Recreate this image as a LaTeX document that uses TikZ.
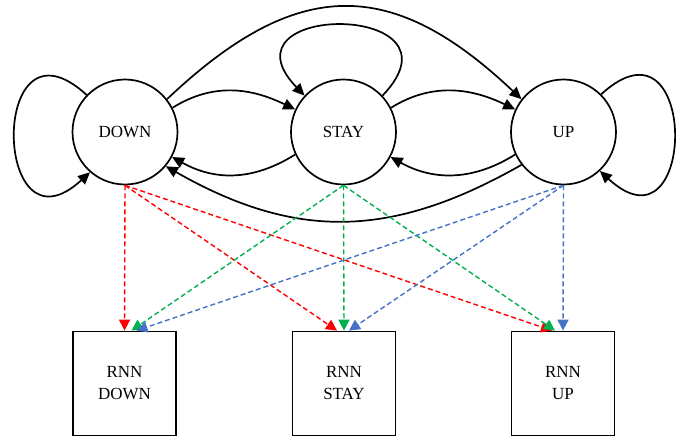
\documentclass[tikz,border=0pt]{standalone}
\usepackage{fontspec}
\setmainfont{Liberation Serif}
\usetikzlibrary{arrows.meta}
\definecolor{emitred}{RGB}{255,0,0}
\definecolor{emitgreen}{RGB}{0,176,80}
\definecolor{emitblue}{RGB}{68,114,196}
\begin{document}
\begin{tikzpicture}
        [x=1pt,y=-1pt,
        font=\fontsize{17}{22}\selectfont,
        state/.style={circle,draw,line width=1.7pt,minimum size=105pt,inner sep=0pt},
        rnn/.style={rectangle,draw,line width=1.8pt,minimum width=103pt,minimum height=104pt,align=center},
        arr/.style={-{Triangle[length=12pt,width=11pt]},line width=1.7pt},
        emit/.style={-{Triangle[length=11pt,width=11pt]},line width=1.4pt,dash pattern=on 5pt off 3pt}]
        \useasboundingbox (0,0) rectangle (685,439);
        \node (down) at (125,132) [state] {DOWN};
        \node (stay) at (343.5,132) [state] {STAY};
        \node (up) at (563.5,132) [state] {UP};
        \node (rnndown) at (124.5,383.5) [rnn] {RNN\\DOWN};
        \node (rnnstay) at (344,383.5) [rnn] {RNN\\STAY};
        \node (rnnup) at (563,383.5) [rnn] {RNN\\UP};
        % self loops
        \draw [arr] (down.136) .. controls +(-98,-90) and +(-98,90) .. (down.229);
        \draw [arr] (stay.43) .. controls +(90,-94) and +(-90,-94) .. (stay.137);
        \draw [arr] (up.45) .. controls +(98,-90) and +(98,90) .. (up.-47);
        % transitions
        \draw [arr] (down.27) .. controls +(40,-25) and +(-45,-22) .. (stay.155);
        \draw [arr] (stay.27) .. controls +(40,-25) and +(-45,-22) .. (up.155);
        \draw [arr] (down.38) .. controls +(130,-123) and +(-130,-123) .. (up.142);
        \draw [arr] (stay.205) .. controls +(-40,25) and +(45,25) .. (down.-28);
        \draw [arr] (up.205) .. controls +(-40,25) and +(45,25) .. (stay.-28);
        \draw [arr] (up.218) .. controls +(-130,74) and +(130,74) .. (down.-40);
        % emissions
        \draw [emit,emitred] (down.south) -- (rnndown.north);
        \draw [emit,emitred] (down.south) -- ([xshift=-7pt]rnnstay.north);
        \draw [emit,emitred] (down.south) -- ([xshift=-11pt]rnnup.north);
        \draw [emit,emitgreen] (stay.south) -- ([xshift=7pt]rnndown.north);
        \draw [emit,emitgreen] (stay.south) -- (rnnstay.north);
        \draw [emit,emitgreen] (stay.south) -- ([xshift=-8pt]rnnup.north);
        \draw [emit,emitblue] (up.south) -- ([xshift=12pt]rnndown.north);
        \draw [emit,emitblue] (up.south) -- ([xshift=5pt]rnnstay.north);
        \draw [emit,emitblue] (up.south) -- (rnnup.north);
     \end{tikzpicture}
\end{document}
